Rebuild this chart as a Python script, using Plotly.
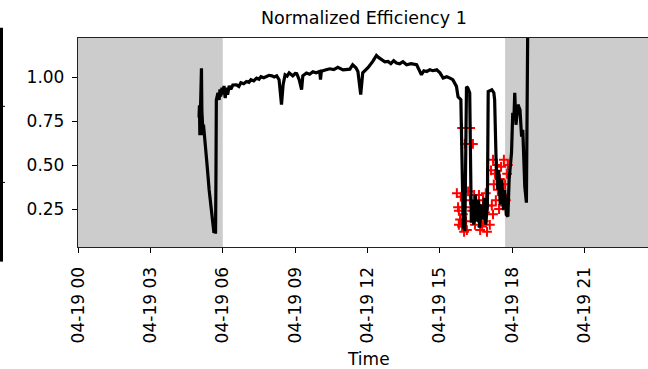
import plotly.graph_objects as go

DAY = "2019-04-19"

# Normalized efficiency (black line)
line_times = [
    "05:01", "05:02", "05:03", "05:04", "05:07", "05:08", "05:09", "05:10", "05:11", "05:12",
    "05:16", "05:21", "05:26", "05:31", "05:36", "05:38", "05:41", "05:42", "05:43", "05:44",
    "05:48", "05:51", "05:53", "05:55", "05:58", "06:00", "06:03", "06:06", "06:09", "06:12",
    "06:16", "06:20", "06:25",
    "06:34", "06:40", "06:45", "06:52", "06:59", "07:05", "07:10", "07:17", "07:24", "07:30",
    "07:35", "07:42", "07:49", "07:55", "08:02", "08:08", "08:14", "08:20", "08:26", "08:30",
    "08:35", "08:40", "08:45", "08:50", "08:54", "09:00", "09:04", "09:10", "09:16", "09:19",
    "09:28", "09:36", "09:44", "09:52", "10:01", "10:03", "10:05", "10:15", "10:26", "10:36",
    "10:46",
    "10:59", "11:16", "11:23", "11:31", "11:36", "11:43", "11:48", "12:01", "12:13", "12:22",
    "12:28", "12:35", "12:43", "12:51", "12:58", "13:05", "13:12", "13:20", "13:28", "13:37",
    "13:48", "14:02", "14:05", "14:14", "14:20", "14:27", "14:35", "14:42", "14:52", "15:00",
    "15:08", "15:17", "15:25", "15:32", "15:41", "15:45", "15:52",
    "15:58", "16:02", "16:06", "16:09", "16:14", "16:18", "16:22", "16:24", "16:28", "16:32",
    "16:36", "16:39", "16:43", "16:47", "16:50", "16:54", "16:58", "17:00", "17:04", "17:09",
    "17:14", "17:16", "17:20", "17:24", "17:26", "17:30", "17:34", "17:38", "17:41", "17:45",
    "17:49", "17:52", "17:58", "18:01", "18:04", "18:06", "18:09", "18:14", "18:19", "18:23",
    "18:26", "18:31", "18:35", "18:39",
]
line_values = [
    0.77, 0.84, 0.67, 0.81, 1.05, 0.81, 0.73, 0.80, 0.67, 0.73,
    0.60, 0.50, 0.36, 0.24, 0.15, 0.115, 0.13, 0.11, 0.42, 0.87,
    0.91, 0.87, 0.93, 0.89, 0.94, 0.90, 0.95, 0.88, 0.94, 0.90,
    0.95, 0.93, 0.955,
    0.956, 0.947, 0.968, 0.962, 0.975, 0.970, 0.985, 0.978, 0.994, 0.988,
    1.002, 0.996, 1.003, 1.010, 1.007, 1.001, 1.007, 0.985, 0.843, 0.956,
    1.013, 1.006, 1.024, 1.012, 1.007, 1.020, 1.019, 0.985, 0.928, 1.007,
    1.023, 1.016, 1.03, 1.024, 1.032, 0.985, 1.033, 1.040, 1.047, 1.042,
    1.055,
    1.041, 1.045, 1.07, 1.053, 1.032, 0.90, 1.024, 1.053, 1.089, 1.123,
    1.11, 1.098, 1.087, 1.089, 1.076, 1.093, 1.08, 1.076, 1.087, 1.07,
    1.076, 1.07, 1.053, 1.013, 1.036, 1.032, 1.041, 1.036, 1.041, 1.024,
    0.994, 1.002, 0.994, 0.985, 0.947, 0.888, 0.871,
    0.15, 0.127, 0.945, 0.939, 0.911, 0.172, 0.303, 0.161, 0.332, 0.178,
    0.303, 0.144, 0.275, 0.19, 0.314, 0.161, 0.275, 0.918, 0.922, 0.928,
    0.911, 0.871, 0.49, 0.36, 0.473, 0.275, 0.417, 0.246, 0.36, 0.218,
    0.207, 0.417, 0.57, 0.797, 0.769, 0.911, 0.729, 0.843, 0.814, 0.661,
    0.70, 0.377, 0.286, 1.5,
]

# Flagged points (red +)
flag_times = [
    "15:42", "15:45", "15:47", "15:50", "15:52", "15:55", "15:57", "16:00", "16:02", "16:05",
    "16:07", "15:47", "15:55", "16:15", "16:02", "16:22",
    "16:10", "16:15", "16:20", "16:25", "16:27", "16:30", "16:35", "16:37", "16:40", "16:42",
    "16:47", "16:49", "16:52", "16:57", "16:59", "17:04", "16:54", "16:45",
    "17:07", "17:12", "17:14", "17:17", "17:19", "17:22", "17:24", "17:27", "17:29", "17:32",
    "17:34", "17:37", "17:39", "17:42", "17:44", "17:47", "17:49", "17:09", "17:12",
]
flag_values = [
    0.34, 0.26, 0.24, 0.19, 0.32, 0.15, 0.22, 0.12, 0.26, 0.18,
    0.13, 0.16, 0.71, 0.71, 0.62, 0.62,
    0.35, 0.30, 0.24, 0.33, 0.16, 0.27, 0.20, 0.33, 0.13, 0.25,
    0.30, 0.18, 0.23, 0.12, 0.27, 0.16, 0.34, 0.15,
    0.47, 0.53, 0.39, 0.45, 0.30, 0.50, 0.36, 0.25, 0.42, 0.49,
    0.33, 0.27, 0.53, 0.39, 0.30, 0.45, 0.50, 0.27, 0.22,
]

night_spans = [("2019-04-19 00:00", "2019-04-19 06:00"), ("2019-04-19 17:42", "2019-04-20 00:00")]
x_tick_step_hours = 3
title_text = "Normalized Efficiency 1"
x_title = "Time"

FONT = "DejaVu Sans"

fig = go.Figure()
fig.add_trace(go.Scatter(
    x=[f"{DAY} {t}" for t in flag_times], y=flag_values, mode="markers",
    marker=dict(symbol="cross-thin", size=7, color="red", line=dict(color="red", width=2)),
    showlegend=False, hoverinfo="skip"))
fig.add_trace(go.Scatter(
    x=[f"{DAY} {t}" for t in line_times], y=line_values, mode="lines",
    line=dict(color="black", width=3.2), showlegend=False))

shapes = []
for a, b in night_spans:
    shapes.append(dict(type="rect", xref="x", yref="paper", x0=a, x1=b, y0=0, y1=1,
                       fillcolor="#cccccc", line=dict(width=0), layer="below"))
# remnant of neighbouring panel at the far left
shapes.append(dict(type="line", xref="paper", yref="paper", x0=-0.1342, x1=-0.1342,
                   y0=-0.070, y1=1.049, line=dict(color="black", width=3)))
for yy in (0.673, 0.309):
    shapes.append(dict(type="line", xref="paper", yref="paper", x0=-0.1342, x1=-0.128,
                       y0=yy, y1=yy, line=dict(color="black", width=1)))

fig.update_layout(
    width=648, height=369,
    margin=dict(l=78, r=0, t=38, b=122, pad=0),
    paper_bgcolor="white", plot_bgcolor="white",
    font=dict(family=FONT, size=17, color="black"),
    shapes=shapes,
    annotations=[
        dict(text=title_text, xref="paper", yref="paper", x=0.502, y=1.097,
             xanchor="center", yanchor="middle", showarrow=False, font=dict(size=17.5)),
        dict(text=x_title, xref="paper", yref="paper", x=0.509, y=-0.535,
             xanchor="center", yanchor="middle", showarrow=False, font=dict(size=17)),
    ],
    xaxis=dict(
        type="date", range=["2019-04-19 00:00", "2019-04-19 23:37:20"],
        tick0="2019-04-19 00:00", dtick=x_tick_step_hours * 3600 * 1000,
        tickformat="%m-%d %H", tickangle=-90,
        ticks="outside", ticklen=5, tickwidth=1.2, tickcolor="black",
        showline=True, linecolor="#222", linewidth=1.3, mirror=True,
        showgrid=False, zeroline=False, tickfont=dict(size=17),
        ticklabelstandoff=7,
    ),
    yaxis=dict(
        range=[0.034, 1.222], tickvals=[0.25, 0.5, 0.75, 1.0],
        ticktext=["0.25", "0.50", "0.75", "1.00"],
        ticks="outside", ticklen=5, tickwidth=1.2, tickcolor="black",
        showline=True, linecolor="#222", linewidth=1.3,
        showgrid=False, zeroline=False, tickfont=dict(size=17),
        ticklabelstandoff=4,
    ),
)

fig.write_html("out.html")
